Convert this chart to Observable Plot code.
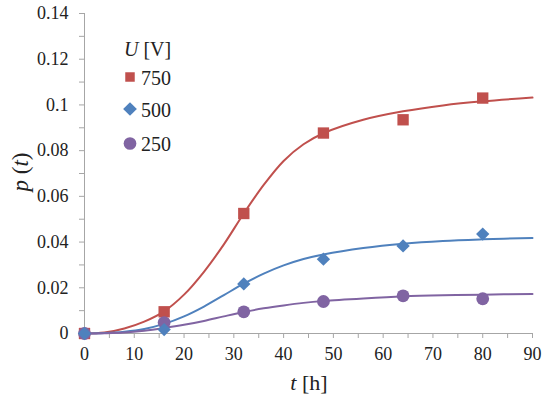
<!DOCTYPE html>
<html><head><meta charset="utf-8">
<script src="https://cdn.jsdelivr.net/npm/d3@7"></script>
<script src="https://cdn.jsdelivr.net/npm/@observablehq/plot@0.6"></script>
<style>
body{margin:0;background:#fff}
#chart{position:relative;width:542px;height:403px}
#chart svg, #chart svg text{font-family:"Liberation Serif","Times New Roman",serif !important}
g[aria-label="x-axis tick"], g[aria-label="y-axis tick"]{stroke:#a6a6a6}
</style>
</head><body><div id="chart"></div><script>
const series = ["750", "500", "250"];
const colors = ["#C0504D", "#4F81BD", "#8064A2"];
const symbols = ["square", "diamond2", "circle"];

// measured points
const obsT = [0, 16, 32, 48, 64, 80];
const obs750 = [0, 0.0095, 0.0525, 0.0877, 0.0935, 0.1030];
const obs500 = [0, 0.0017, 0.0217, 0.0325, 0.0383, 0.0435];
const obs250 = [0, 0.0048, 0.0095, 0.0140, 0.0165, 0.0152];

// fitted curves
const fitT = [0, 4, 8, 12, 16, 20, 24, 28, 32, 36, 40, 44, 48, 56, 64, 72, 80, 90];
const fit750 = [0, 0.0004, 0.0022, 0.0052, 0.0097, 0.0170, 0.0270, 0.0390, 0.0525, 0.0650, 0.0755, 0.0828, 0.0876, 0.0935, 0.0972, 0.0998, 0.1016, 0.1032];
const fit500 = [0, 0.0002, 0.0008, 0.0020, 0.0042, 0.0075, 0.0118, 0.0168, 0.0218, 0.0262, 0.0298, 0.0326, 0.0346, 0.0374, 0.0393, 0.0405, 0.0412, 0.0418];
const fit250 = [0, 0.0001, 0.0004, 0.0012, 0.0024, 0.0038, 0.0055, 0.0075, 0.0094, 0.0110, 0.0123, 0.0134, 0.0142, 0.0153, 0.0162, 0.0167, 0.0170, 0.0173];

const xTicks = [0, 10, 20, 30, 40, 50, 60, 70, 80, 90];
const yTicks = [0, 0.02, 0.04, 0.06, 0.08, 0.1, 0.12, 0.14];

const obsVals = [obs750, obs500, obs250];
const fitVals = [fit750, fit500, fit250];
const obs = series.flatMap((s, i) => obsT.map((t, j) => ({t, p: obsVals[i][j], s})));
const fit = series.flatMap((s, i) => fitT.map((t, j) => ({t, p: fitVals[i][j], s})));

const xMinor = d3.range(0, 91, 5);
const yMinor = d3.range(0, 0.1401, 0.01).map(v => +v.toFixed(2));
const markerR = {"750": 6.4, "500": 6.0, "250": 6.4};

const plot = Plot.plot({
  width: 542, height: 403,
  marginLeft: 84, marginRight: 10, marginTop: 13, marginBottom: 70,
  style: {fontSize: "18px", color: "#222", background: "#fff"},
  x: {domain: [0, 90]},
  y: {domain: [0, 0.14]},
  r: {type: "identity"},
  color: {domain: series, range: colors},
  symbol: {domain: series, range: symbols},
  marks: [
    Plot.axisX({ticks: xMinor, tickSize: 5, tickPadding: 9, label: null,
      tickFormat: d => xTicks.includes(d) ? String(d) : "", fontSize: 18}),
    Plot.axisY({ticks: yMinor, tickSize: 5, tickPadding: 11, label: null,
      tickFormat: d => yTicks.some(v => Math.abs(v - d) < 1e-9) ? String(+d.toFixed(2)) : "", fontSize: 18}),
    Plot.ruleX([0], {stroke: "#a6a6a6"}),
    Plot.ruleY([0], {stroke: "#a6a6a6"}),
    Plot.line(fit, {x: "t", y: "p", z: "s", stroke: "s", strokeWidth: 2, curve: "catmull-rom"}),
    Plot.dot(obs, {x: "t", y: "p", fill: "s", symbol: "s", r: d => markerR[d.s], stroke: "none"})
  ]
});
document.getElementById("chart").appendChild(plot);

// axis titles with italics
const svg = d3.select(plot);
const xl = svg.append("text").attr("x", 309).attr("y", 390).attr("text-anchor", "middle")
  .attr("font-size", 22).attr("fill", "#222");
xl.append("tspan").attr("font-style", "italic").text("t");
xl.append("tspan").text(" [h]");
const yl = svg.append("text").attr("transform", "translate(28,172) rotate(-90)").attr("text-anchor", "middle")
  .attr("font-size", 23).attr("fill", "#222");
yl.append("tspan").attr("font-style", "italic").text("p");
yl.append("tspan").text(" (");
yl.append("tspan").attr("font-style", "italic").text("t");
yl.append("tspan").text(")");

// legend
const lg = svg.append("g").attr("font-size", 20).attr("fill", "#222").attr("text-anchor", "start");
const title = lg.append("text").attr("x", 124).attr("y", 56).attr("font-size", 20);
title.append("tspan").attr("font-style", "italic").text("U");
title.append("tspan").text(" [V]");
const legY = [77, 109, 143.5];
const legSize = [90, 120, 127];
series.forEach((s, i) => {
  const sym = {square: d3.symbolSquare, diamond2: d3.symbolDiamond2, circle: d3.symbolCircle}[symbols[i]];
  lg.append("path").attr("transform", `translate(130,${legY[i]})`)
    .attr("d", d3.symbol(sym, legSize[i])()).attr("fill", colors[i]);
  lg.append("text").attr("x", 141).attr("y", legY[i] + 7.5).text(s);
});
svg.selectAll("text").attr("font-family", "Liberation Serif, Times New Roman, serif");
</script></body></html>
